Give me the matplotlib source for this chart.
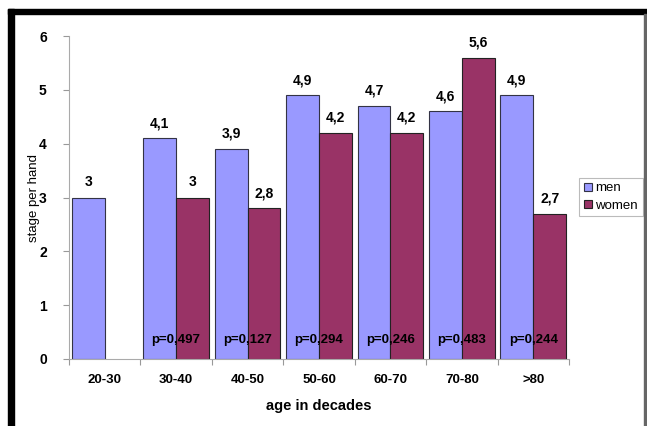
import numpy as np
import matplotlib.pyplot as plt
from matplotlib.patches import Rectangle

plt.rcParams['font.family'] = ['Liberation Sans', 'DejaVu Sans']

ages = ['20-30', '30-40', '40-50', '50-60', '60-70', '70-80', '>80']
men = [3.0, 4.1, 3.9, 4.9, 4.7, 4.6, 4.9]
women = [np.nan, 3.0, 2.8, 4.2, 4.2, 5.6, 2.7]
pvals = [None, '0,497', '0,127', '0,294', '0,246', '0,483', '0,244']

men_col = '#9999FF'
women_col = '#993366'

def fmt(v):
    s = '%g' % v
    return s.replace('.', ',')

fig = plt.figure(figsize=(6.47, 4.26), dpi=100)
ax = fig.add_axes([69/647, 1-359/426, 500/647, 323/426])

x = np.arange(len(ages))
w = 0.46
b1 = ax.bar(x - w/2, men, w, color=men_col, edgecolor='#333344', linewidth=0.8, label='men')
b2 = ax.bar(x + w/2, women, w, color=women_col, edgecolor='#222222', linewidth=0.8, label='women')

for xi, v in zip(x, men):
    ax.text(xi - w/2, v + 0.15, fmt(v), ha='center', va='bottom', fontsize=10, fontweight='bold')
for xi, v in zip(x, women):
    if not np.isnan(v):
        ax.text(xi + w/2, v + 0.15, fmt(v), ha='center', va='bottom', fontsize=10, fontweight='bold')
for xi, p in zip(x, pvals):
    if p:
        ax.text(xi, 0.35, 'p=' + p, ha='center', va='center', fontsize=9.5, fontweight='bold')

ax.set_xlim(-0.5, len(ages) - 0.5)
ax.set_ylim(0, 6)
ax.set_yticks(range(7))
ax.set_xticks(np.arange(-0.5, len(ages)), minor=False)
ax.set_xticklabels([])
ax.set_xticks(x, minor=True)
ax.set_xticklabels(ages, minor=True, fontsize=9.5, fontweight='bold')
ax.tick_params(axis='x', which='minor', length=0, pad=11)
ax.tick_params(axis='x', which='major', length=4, color='#999999')
ax.tick_params(axis='y', length=4, color='#999999', labelsize=10, pad=12)
for lab in ax.get_yticklabels():
    lab.set_fontweight('bold')

for s in ['top', 'right']:
    ax.spines[s].set_visible(False)
for s in ['left', 'bottom']:
    ax.spines[s].set_color('#aaaaaa')

ax.set_ylabel('stage per hand', fontsize=9.5)
ax.yaxis.set_label_coords(-0.058, 0.5)
ax.set_xlabel('age in decades', fontsize=10.5, fontweight='bold', labelpad=9)

leg = fig.legend(handles=[b1, b2], loc='center left', bbox_to_anchor=(579/647, 1-197/426),
                 fontsize=9.5, frameon=True, fancybox=False, handlelength=0.6, handleheight=0.6,
                 handletextpad=0.3, borderpad=0.35, labelspacing=0.4, borderaxespad=0)
leg.get_frame().set_edgecolor('#aaaaaa')
leg.get_frame().set_linewidth(0.8)

# frame around the picture
fig.patches.append(Rectangle((8/647, 0), 6/647, 1 - 9/426, transform=fig.transFigure, color='black', zorder=10))
fig.patches.append(Rectangle((8/647, 1 - 14/426), 1 - 8/647, 5/426, transform=fig.transFigure, color='black', zorder=10))
fig.patches.append(Rectangle((644/647, 0), 1.5/647, 1 - 14/426, transform=fig.transFigure, color='#666666', zorder=10))

fig.savefig('out.png', dpi=100)
